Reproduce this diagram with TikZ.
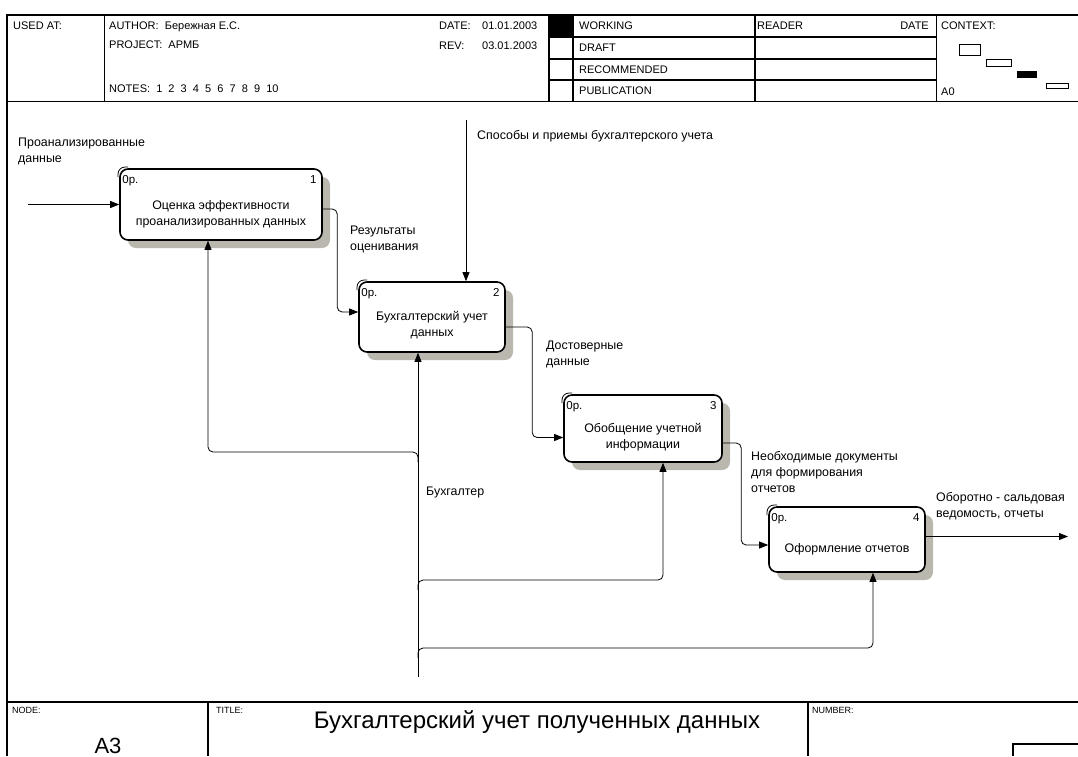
\documentclass[tikz,border=0pt]{standalone}
\usepackage{fontspec}
\setmainfont{Liberation Sans}
\usetikzlibrary{arrows.meta,shadows}
\definecolor{shadowc}{RGB}{186,183,174}
\tikzset{
  frm/.style={line width=1.2pt},
  hdr/.style={font=\fontsize{11}{13}\selectfont, anchor=base west, inner sep=0pt},
  hdrr/.style={font=\fontsize{11}{13}\selectfont, anchor=base east, inner sep=0pt},
  ftr/.style={font=\fontsize{9}{10}\selectfont, anchor=base west, inner sep=0pt},
  lbl/.style={font=\fontsize{12.4}{16}\selectfont, align=left, anchor=north west, inner sep=0pt},
  actbox/.style={draw, line width=1.6pt, rounded corners=8pt, fill=white, inner sep=0pt,
    drop shadow={shadow xshift=8pt, shadow yshift=-8pt, fill=shadowc, opacity=1}},
  boxtxt/.style={font=\fontsize{12.4}{16}\selectfont, align=center, inner sep=0pt},
  corner/.style={font=\fontsize{11.5}{12}\selectfont, inner sep=0pt},
  conn/.style={line width=0.8pt, rounded corners=5pt},
  arr/.style={conn, -{Triangle[length=9pt,width=7pt]}},
  cornermark/.style={line width=0.8pt, rounded corners=7pt}
}
\begin{document}
\begin{tikzpicture}[x=1pt,y=-1pt]
\useasboundingbox (0,0) rectangle (1078,756);
% ---------- frame ----------
\draw[frm] (7,756) -- (7,15) -- (1078,15);
\draw[frm] (7,101.5) -- (1078,101.5);
\draw[frm] (7,702) -- (1078,702);
\draw[frm] (104.5,15) -- (104.5,101.5);
\fill (549,15) rectangle (573,37);
\draw[frm] (549,15) -- (549,101.5);
\draw[frm] (573,15) -- (573,101.5);
\draw[frm] (755,15) -- (755,101.5);
\draw[frm] (936.5,15) -- (936.5,101.5);
\draw[frm] (549,37) -- (936.5,37);
\draw[frm] (549,59) -- (936.5,59);
\draw[frm] (549,80) -- (936.5,80);
% context
\draw[line width=0.8pt] (959,44) rectangle (980,55);
\draw[line width=0.8pt] (986,59) rectangle (1011,66);
\fill (1017,71) rectangle (1037,77.5);
\draw[line width=0.8pt] (1046,83) rectangle (1068,88);
% footer
\draw[frm] (208,702) -- (208,756);
\draw[frm] (808,702) -- (808,756);
\draw[frm] (1013,756) -- (1013,744) -- (1078,744);
% ---------- header text ----------
\node[hdr] (usedat) at (13,29) {USED AT:};
\node[hdr] (author) at (109,29) {AUTHOR:\ \ Бережная Е.С.};
\node[hdr] (project) at (109,48) {PROJECT:\ \ АРМБ};
\node[hdr] (notes) at (109,92) {NOTES:\ \ 1\ \ 2\ \ 3\ \ 4\ \ 5\ \ 6\ \ 7\ \ 8\ \ 9\ \ 10};
\node[hdr] (datek) at (439,29) {DATE:};
\node[hdr] (datev) at (482,29) {01.01.2003};
\node[hdr] (revk) at (439,49) {REV:};
\node[hdr] (revv) at (482,49) {03.01.2003};
\node[hdr] (working) at (579,29) {WORKING};
\node[hdr] (draft) at (579,51) {DRAFT};
\node[hdr] (recom) at (579,73) {RECOMMENDED};
\node[hdr] (publ) at (579,94) {PUBLICATION};
\node[hdr] (reader) at (757,29) {READER};
\node[hdrr] (rdate) at (929,29) {DATE};
\node[hdr] (context) at (941,29) {CONTEXT:};
\node[hdr] (a0) at (941,95) {A0};
% ---------- footer text ----------
\node[ftr] (nodek) at (12,713) {NODE:};
\node[ftr] (titlek) at (216,713) {TITLE:};
\node[ftr] (numk) at (812,713) {NUMBER:};
\node[font=\fontsize{24}{26}\selectfont, anchor=base, inner sep=0pt] (title) at (537,728) {Бухгалтерский учет полученных данных};
\node[font=\fontsize{22}{24}\selectfont, anchor=base, inner sep=0pt] (a3) at (108,753) {A3};
% ---------- activity boxes ----------
\node[actbox, minimum width=202pt, minimum height=71pt] (b1) at (221,204.5) {};
\node[actbox, minimum width=146pt, minimum height=70pt] (b2) at (432,317) {};
\node[actbox, minimum width=158pt, minimum height=67pt] (b3) at (643,428.5) {};
\node[actbox, minimum width=156pt, minimum height=65pt] (b4) at (847,539.5) {};
\foreach \b/\n in {b1/1,b2/2,b3/3,b4/4}{
  \draw[cornermark] ([xshift=-1.2pt,yshift=-9pt]\b.north west) |- ([xshift=9pt,yshift=1.2pt]\b.north west);
  \node[corner, anchor=north west] (\b op) at ([xshift=3pt,yshift=-7pt]\b.north west) {0р.};
  \node[corner, anchor=north east] (\b num) at ([xshift=-6pt,yshift=-7pt]\b.north east) {\n};
}
\node[boxtxt] (t1) at ([yshift=-10pt]b1.center) {Оценка эффективности\\проанализированных данных};
\node[boxtxt] (t2) at ([yshift=-8pt]b2.center) {Бухгалтерский учет\\данных};
\node[boxtxt] (t3) at ([yshift=-8.5pt]b3.center) {Обобщение учетной\\информации};
\node[boxtxt] (t4) at ([yshift=-10pt]b4.center) {Оформление отчетов};
% ---------- connectors ----------
\coordinate (in1) at (28,204.5);
\draw[arr] (in1) -- (b1.west);
\coordinate (o1) at ([yshift=-4.5pt]b1.east);
\coordinate (i2) at ([yshift=5pt]b2.west);
\draw[arr] (o1) -| ([xshift=-21pt]i2) -- (i2);
\coordinate (o2) at ([yshift=-10pt]b2.east);
\coordinate (i3) at ([yshift=-9pt]b3.west);
\draw[arr] (o2) -| ([xshift=-31pt]i3) -- (i3);
\coordinate (o3) at ([yshift=-14.5pt]b3.east);
\coordinate (i4) at ([yshift=-5.5pt]b4.west);
\draw[arr] (o3) -| ([xshift=-27pt]i4) -- (i4);
\coordinate (o4) at ([yshift=3pt]b4.east);
\coordinate (out4) at (1068,536.5);
\draw[arr] (o4) -- (out4);
\coordinate (c2) at (466,120);
\draw[arr] (c2) -- (c2 |- b2.north);
\coordinate (m0) at (418,677);
\draw[arr] (m0) -- (m0 |- b2.south);
\coordinate (m1) at (418,462);
\draw[arr] (m1) -- ++(0,-10) -| ([xshift=-13pt]b1.south);
\coordinate (m3) at (418,590);
\draw[arr] (m3) -- ++(0,-10) -| ([xshift=20pt]b3.south);
\coordinate (m4) at (418,658);
\draw[arr] (m4) -- ++(0,-10) -| ([xshift=26pt]b4.south);
% ---------- labels ----------
\node[lbl] (l1) at (18,138) {Проанализированные\\данные};
\node[lbl] (l2) at (350,226) {Результаты\\оценивания};
\node[lbl] (l3) at (477,130) {Способы и приемы бухгалтерского учета};
\node[lbl] (l4) at (546,341) {Достоверные\\данные};
\node[lbl] (l5) at (751,451) {Необходимые документы\\для формирования\\отчетов};
\node[lbl] (l6) at (936,492) {Оборотно - сальдовая\\ведомость, отчеты};
\node[lbl] (l7) at (426,487) {Бухгалтер};
\end{tikzpicture}
\end{document}
